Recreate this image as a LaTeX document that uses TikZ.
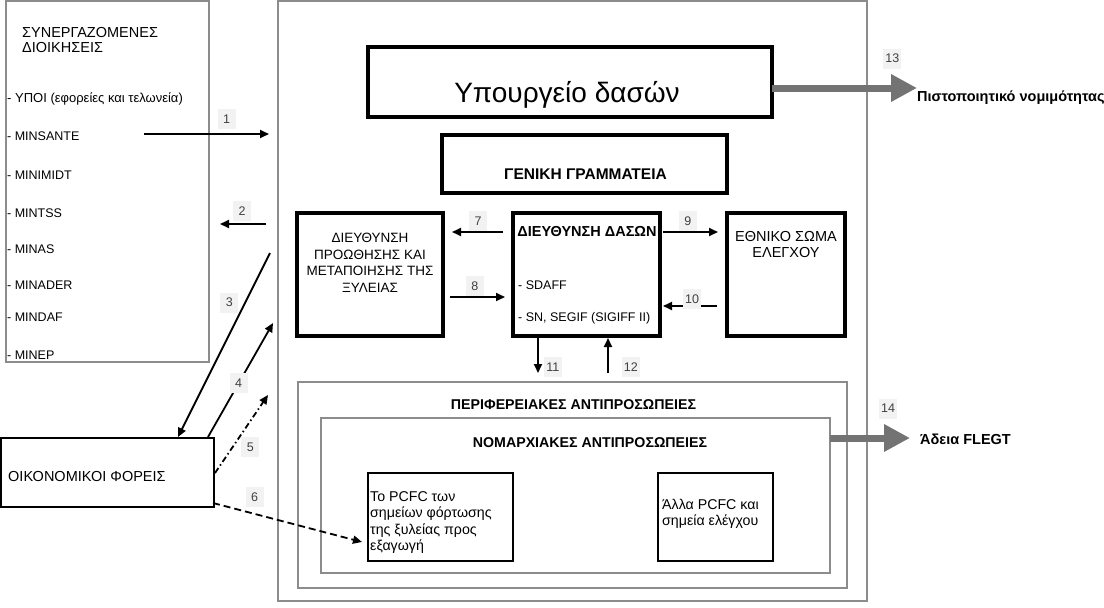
\documentclass[tikz,border=0pt]{standalone}
\usepackage{fontspec}
\setmainfont{Liberation Sans}
\usetikzlibrary{arrows.meta}

\begin{document}
\begin{tikzpicture}[x=1pt, y=-1pt,
  frame/.style = {draw=black!45, line width=1.3pt, inner sep=0pt},
  main/.style = {draw, line width=3.5pt, inner sep=0pt},
  plain/.style = {draw, line width=1.6pt, inner sep=0pt},
  txt/.style = {inner sep=0pt, font=\fontsize{12.5}{15}\selectfont},
  mid/.style = {inner sep=0pt, align=center, font=\fontsize{13.5}{16.5}\selectfont},
  bold/.style = {inner sep=0pt, font=\fontsize{14.2}{16}\selectfont\bfseries},
  num/.style = {fill=black!5, text=black!75, minimum width=18pt, minimum height=20pt, inner sep=0pt, font=\fontsize{12.5}{14}\selectfont},
  link/.style = {line width=1.8pt, -{Triangle[length=9pt,width=8pt]}},
  bigarrow/.style = {draw=black!55, line width=7pt, -{Triangle[length=26pt,width=26pt]}}]
\useasboundingbox (0,0) rectangle (1104,608);

\node[frame, minimum width=203, minimum height=361] (coop) at (107.5,181.5) {};
\node[frame, minimum width=589, minimum height=600] (outer) at (572.5,301) {};
\node[main, minimum width=404, minimum height=70] (ministry) at (570,82) {};
\node[main, minimum width=285, minimum height=58] (general) at (584.5,164) {};
\node[main, minimum width=146, minimum height=123] (timber) at (370,274.5) {};
\node[main, minimum width=147, minimum height=123] (forest) at (586.5,274.5) {};
\node[main, minimum width=118, minimum height=123] (control) at (786,274.5) {};
\node[frame, minimum width=549, minimum height=206] (regional) at (572.5,485) {};
\node[frame, minimum width=509, minimum height=155] (prefect) at (575.5,495.5) {};
\node[plain, minimum width=145, minimum height=88] (pcfc) at (440.5,517) {};
\node[plain, minimum width=115, minimum height=88] (otherpcfc) at (715.5,517) {};
\node[plain, minimum width=213, minimum height=69] (firms) at (107.5,472.5) {};

\node[txt, anchor=west, align=left, font=\fontsize{14.5}{15}\selectfont] (cooptitle) at (22,40) {ΣΥΝΕΡΓΑΖΟΜΕΝΕΣ\\ΔΙΟΙΚΗΣΕΙΣ};
\node[txt, anchor=base west, font=\fontsize{13}{15}\selectfont] (ypoi) at (7,102.5) {- ΥΠΟΙ (εφορείες και τελωνεία)};
\node[txt, anchor=base west] (minsante) at (7,140.5) {- MINSANTE};
\node[txt, anchor=base west] (minimidt) at (7,179.5) {- MINIMIDT};
\node[txt, anchor=base west] (mintss) at (7,217.5) {- MINTSS};
\node[txt, anchor=base west] (minas) at (7,253.5) {- MINAS};
\node[txt, anchor=base west] (minader) at (7,289.5) {- MINADER};
\node[txt, anchor=base west] (mindaf) at (7,321.5) {- MINDAF};
\node[txt, anchor=base west] (minep) at (7,359.5) {- MINEP};

\node[inner sep=0pt, anchor=base, font=\fontsize{28}{30}\selectfont] (ministrytxt) at (567,102) {Υπουργείο δασών};
\node[bold, anchor=base, font=\fontsize{15.5}{17}\selectfont\bfseries] (generaltxt) at (585.5,179.5) {ΓΕΝΙΚΗ ΓΡΑΜΜΑΤΕΙΑ};
\node[mid, anchor=north] (timbertxt) at (370,233) {ΔΙΕΥΘΥΝΣΗ\\ΠΡΟΩΘΗΣΗΣ ΚΑΙ\\ΜΕΤΑΠΟΙΗΣΗΣ ΤΗΣ\\ΞΥΛΕΙΑΣ};
\node[bold, anchor=base, font=\fontsize{14.5}{16}\selectfont\bfseries] (foresttxt) at (587,236.5) {ΔΙΕΥΘΥΝΣΗ ΔΑΣΩΝ};
\node[txt, anchor=base west] (sdaff) at (518,289.5) {- SDAFF};
\node[txt, anchor=base west] (segif) at (518,321.5) {- SN, SEGIF (SIGIFF II)};
\node[mid, anchor=north, font=\fontsize{14.5}{16}\selectfont] (controltxt) at (786,231) {ΕΘΝΙΚΟ ΣΩΜΑ\\ΕΛΕΓΧΟΥ};
\node[bold, anchor=base] (regionaltxt) at (573.5,409.5) {ΠΕΡΙΦΕΡΕΙΑΚΕΣ ΑΝΤΙΠΡΟΣΩΠΕΙΕΣ};
\node[bold, anchor=base] (prefecttxt) at (590,447.5) {ΝΟΜΑΡΧΙΑΚΕΣ ΑΝΤΙΠΡΟΣΩΠΕΙΕΣ};
\node[mid, anchor=north west, align=left, font=\fontsize{14.2}{16.5}\selectfont] (pcfctxt) at (370,491) {Το PCFC των\\σημείων φόρτωσης\\της ξυλείας προς\\εξαγωγή};
\node[mid, anchor=north west, align=left, font=\fontsize{14.2}{15.5}\selectfont] (otherpcfctxt) at (662,499.5) {Άλλα PCFC και\\σημεία ελέγχου};
\node[mid, anchor=base west, font=\fontsize{14.5}{16}\selectfont] (firmstxt) at (8,481.5) {ΟΙΚΟΝΟΜΙΚΟΙ ΦΟΡΕΙΣ};
\node[bold, anchor=base west, font=\fontsize{14.5}{16}\selectfont\bfseries] (legality) at (917,101.5) {Πιστοποιητικό νομιμότητας};
\node[bold, anchor=base west, font=\fontsize{14.5}{16}\selectfont\bfseries] (flegt) at (920,444.5) {Άδεια FLEGT};

\coordinate (a1) at (144,134);   \coordinate (b1) at (269,134);
\coordinate (a2) at (266,224);   \coordinate (b2) at (220,224);
\coordinate (a3) at (270,253);   \coordinate (b3) at (178,437);
\coordinate (a4) at (208,437);   \coordinate (b4) at (273,323);
\coordinate (a5) at (215,473);   \coordinate (b5) at (268,395);
\coordinate (a6) at (213,503);   \coordinate (b6) at (362,542);
\coordinate (a7) at (503,232);   \coordinate (b7) at (452,232);
\coordinate (a8) at (450,297);   \coordinate (b8) at (505,297);
\coordinate (a9) at (663,232);   \coordinate (b9) at (718,232);
\coordinate (a10) at (717,306);  \coordinate (b10) at (663,306);
\coordinate (a11) at (538,336);  \coordinate (b11) at (538,373);
\coordinate (a12) at (608,373);  \coordinate (b12) at (608,338);
\coordinate (a13) at (772,88);   \coordinate (b13) at (917,88);
\coordinate (a14) at (830,438);  \coordinate (b14) at (910,438);

\draw (a1) [link] to node[num, pos=0.66, above=4pt] {1} (b1);
\draw (a2) [link] to node[num, pos=0.52, above=2pt] {2} (b2);
\draw (a3) [link] to node[num, pos=0.27, left=6pt] {3} (b3);
\draw (a4) [link] to node[num, pos=0.47] {4} (b4);
\draw (a5) [link, dash pattern=on 6pt off 3pt on 1.5pt off 3pt] to node[num, pos=0.33, right=8pt] {5} (b5);
\draw (a6) [link, dash pattern=on 7pt off 4pt] to node[num, pos=0.28, above=6pt] {6} (b6);
\draw (a7) [link] to node[num, pos=0.49, above=0pt] {7} (b7);
\draw (a8) [link] to node[num, pos=0.45, above=0pt] {8} (b8);
\draw (a9) [link] to node[num, pos=0.45, above=0pt] {9} (b9);
\draw (a10) [link] to node[num, pos=0.46, above=-4pt] {10} (b10);
\draw (a11) [link] to node[num, pos=0.84, right=5pt] {11} (b11);
\draw (a12) [link] to node[num, pos=0.17, right=13pt] {12} (b12);
\draw (a13) [bigarrow] to node[num, pos=0.83, above=16pt] {13} (b13);
\draw (a14) [bigarrow] to node[num, pos=0.725, above=16pt] {14} (b14);
\end{tikzpicture}
\end{document}
